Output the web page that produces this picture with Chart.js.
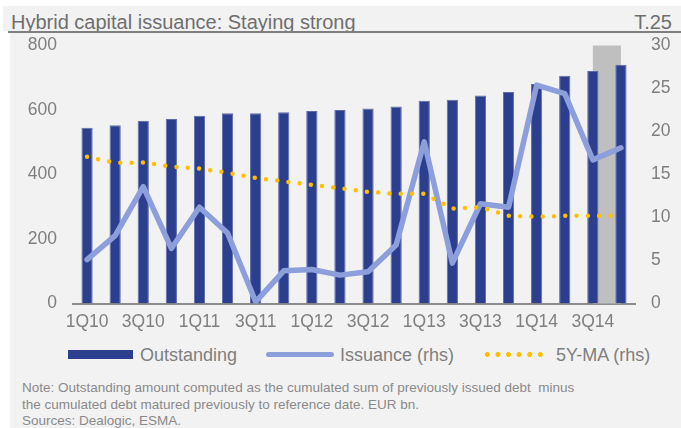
<!DOCTYPE html>
<html>
<head>
<meta charset="utf-8">
<script src="https://cdn.jsdelivr.net/npm/chart.js@4/dist/chart.umd.min.js"></script>
<style>
  html, body { margin: 0; padding: 0; background: #ffffff; }
  body { width: 681px; height: 428px; position: relative; overflow: hidden; font-family: "Liberation Sans", Arial, sans-serif; }
  #head { position: absolute; left: 3px; top: 6px; width: 678px; height: 25px; background: #f2f2f2; }
  #rule { position: absolute; left: 8px; top: 31px; width: 673px; height: 2px; background: #7f7f7f; }
  #title { position: absolute; left: 8px; top: 5px; font-family: "Liberation Sans Narrow", "Arial Narrow", sans-serif; font-size: 20px; color: #6f6f6f; white-space: nowrap; }
  #tag { position: absolute; right: 9px; top: 5px; font-family: "Liberation Sans Narrow", "Arial Narrow", sans-serif; font-size: 20px; color: #6f6f6f; }
  #panel { position: absolute; left: 10px; top: 33px; width: 671px; height: 395px; background: #f2f2f2; }
  #box { position: absolute; left: 10px; top: 18.5px; width: 671px; height: 321.5px; }
  .lg { position: absolute; top: 345px; height: 20px; font-size: 18px; color: #7f7f7f; white-space: nowrap; line-height: 20px; }
  .sw { position: absolute; }
  #note { position: absolute; left: 22px; top: 380px; font-size: 13.5px; line-height: 16.5px; color: #8a8a8a; white-space: nowrap; }
</style>
</head>
<body>
<div id="head"><span id="title">Hybrid capital issuance: Staying strong</span><span id="tag">T.25</span></div>
<div id="rule"></div>
<div id="panel"></div>
<div id="box"><canvas id="myChart"></canvas></div>

<div class="sw" style="left:68px; top:350px; width:65px; height:9px; background:#2b3f8e;"></div>
<div class="lg" style="left:140px;">Outstanding</div>
<div class="sw" style="left:266px; top:352px; width:68px; height:5px; border-radius:3px; background:#8c9edb;"></div>
<div class="lg" style="left:340px;">Issuance (rhs)</div>
<div class="sw" style="left:482px; top:352px; width:64px; height:5px; background: radial-gradient(circle, #ffc000 2.2px, transparent 2.7px) repeat-x; background-size: 10.6px 5px;"></div>
<div class="lg" style="left:556px;">5Y-MA (rhs)</div>

<div id="note">Note: Outstanding amount computed as the cumulated sum of previously issued debt&nbsp; minus<br>the cumulated debt matured previously to reference date. EUR bn.<br>Sources: Dealogic, ESMA.</div>

<script>
const quarters = ['1Q10','2Q10','3Q10','4Q10','1Q11','2Q11','3Q11','4Q11','1Q12','2Q12',
                  '3Q12','4Q12','1Q13','2Q13','3Q13','4Q13','1Q14','2Q14','3Q14','4Q14'];
const outstanding = [545, 553, 567, 572, 582, 590, 590, 593, 597, 600,
                     605, 611, 629, 632, 645, 656, 681, 706, 721, 740];
const issuance = [5.1, 7.9, 13.6, 6.4, 11.2, 8.2, 0.2, 3.8, 3.95, 3.3,
                  3.7, 6.8, 18.8, 4.7, 11.6, 11.2, 25.4, 24.4, 16.7, 18.1];
const ma5y = [17.05, 16.35, 16.4, 15.9, 15.7, 15.2, 14.6, 14.2, 13.8, 13.4,
              12.98, 12.75, 12.75, 11.05, 11.2, 10.2, 10.08, 10.2, 10.2, 10.2];
const leftTicks = [0, 200, 400, 600, 800];
const rightTicks = [0, 5, 10, 15, 20, 25, 30];
const shadeFrom = 18; // grey band from 3Q14 to 4Q14

const tickFont = { family: 'Liberation Sans', size: 17.5 };
const tickColor = '#7f7f7f';

// grey highlight band behind the last bars
const shade = {
  id: 'shade',
  beforeDatasetsDraw(chart) {
    const { ctx, chartArea, scales } = chart;
    const x0 = scales.x.getPixelForValue(shadeFrom);
    const x1 = scales.x.getPixelForValue(shadeFrom + 1);
    ctx.save();
    ctx.fillStyle = '#bfbfbf';
    ctx.fillRect(x0, chartArea.top, x1 - x0, chartArea.bottom - chartArea.top);
    ctx.restore();
  }
};

const ctx = document.querySelector('#myChart');
const chart = new Chart(ctx, {
  type: 'bar',
  data: {
    labels: quarters,
    datasets: [
      {
        label: '5Y-MA (rhs)',
        type: 'line',
        data: ma5y,
        yAxisID: 'y1',
        borderColor: '#ffc000',
        borderWidth: 4.5,
        borderDash: [0, 11.3],
        borderCapStyle: 'round',
        pointRadius: 0,
        tension: 0,
        order: 1
      },
      {
        label: 'Issuance (rhs)',
        type: 'line',
        data: issuance,
        yAxisID: 'y1',
        borderColor: '#8c9edb',
        borderWidth: 5.5,
        borderCapStyle: 'round',
        borderJoinStyle: 'round',
        pointRadius: 0,
        tension: 0,
        order: 2
      },
      {
        label: 'Outstanding',
        data: outstanding,
        yAxisID: 'y',
        backgroundColor: '#2b3f8e',
        borderColor: '#5d6ca8',
        borderWidth: { top: 1, left: 1, right: 1, bottom: 0 },
        categoryPercentage: 1,
        barPercentage: 0.4,
        order: 3
      }
    ]
  },
  options: {
    responsive: true,
    maintainAspectRatio: false,
    animation: false,
    layout: { padding: 0 },
    plugins: {
      legend: { display: false },
      tooltip: { enabled: false }
    },
    scales: {
      x: {
        grid: { display: false, drawTicks: false },
        border: { display: true, color: '#8c8c8c', width: 2 },
        ticks: {
          color: tickColor,
          font: tickFont,
          padding: 8,
          autoSkip: false,
          maxRotation: 0,
          callback: (v, i) => (i % 2 === 0 ? quarters[i] : '')
        },
        afterFit: s => { s.height = 37; }
      },
      y: {
        position: 'left',
        min: 0,
        max: 800,
        grid: { display: false, drawTicks: false },
        border: { display: false },
        afterBuildTicks: s => { s.ticks = leftTicks.map(v => ({ value: v })); },
        ticks: { color: tickColor, font: tickFont, padding: 16 },
        afterFit: s => { s.width = 63; }
      },
      y1: {
        position: 'right',
        min: 0,
        max: 30,
        grid: { display: false, drawTicks: false },
        border: { display: false },
        afterBuildTicks: s => { s.ticks = rightTicks.map(v => ({ value: v })); },
        ticks: { color: tickColor, font: tickFont, padding: 16 },
        afterFit: s => { s.width = 46; }
      }
    }
  },
  plugins: [shade]
});
</script>
</body>
</html>
